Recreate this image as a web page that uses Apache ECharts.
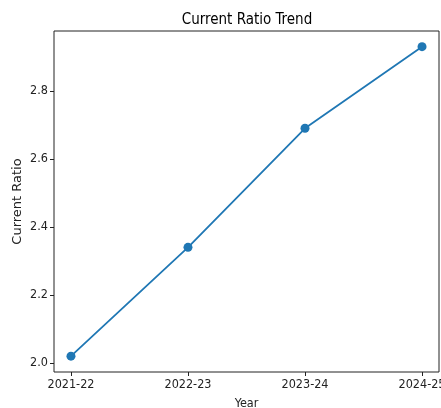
<!DOCTYPE html>
<html><head><meta charset="utf-8">
<script src="https://cdn.jsdelivr.net/npm/echarts@6/dist/echarts.min.js"></script>
<style>html,body{margin:0;padding:0;background:#fff}#c{width:441px;height:408px}</style>
</head><body><div id="c"></div>
<script>
const categories = ["2021-22", "2022-23", "2023-24", "2024-25"];
const currentRatio = [2.02, 2.34, 2.69, 2.93];
const yTicks = [2.0, 2.2, 2.4, 2.6, 2.8];

const FONT = "'DejaVu Sans Condensed', 'DejaVu Sans', sans-serif";
const chart = echarts.init(document.getElementById('c'), null, {renderer: 'canvas'});
chart.setOption({
  animation: false,
  title: {
    text: 'Current Ratio Trend', left: 242, top: 8, textAlign: 'center',
    textStyle: {fontFamily: FONT, fontSize: 15, fontWeight: 'normal', color: '#000'}
  },
  grid: {left: 54, top: 31, right: 2, bottom: 36, outerBoundsMode: 'none', containLabel: false,
    show: true, borderColor: '#222', borderWidth: 1, backgroundColor: 'transparent'},
  xAxis: {
    type: 'value', min: -0.145, max: 3.145,
    axisLine: {show: false, onZero: false},
    splitLine: {show: false},
    axisTick: {show: true, customValues: categories.map((_, i) => i), length: 4, lineStyle: {color: '#222'}},
    axisLabel: {customValues: categories.map((_, i) => i), formatter: v => categories[Math.round(v)] || '',
      fontFamily: FONT, fontSize: 12.5, color: '#222', margin: 6},
    name: 'Year', nameLocation: 'middle', nameGap: 25, nameMoveOverlap: false,
    nameTextStyle: {fontFamily: FONT, fontSize: 12.5, color: '#222'}
  },
  yAxis: {
    type: 'value', min: 1.9735, max: 2.976,
    axisLine: {show: false, onZero: false},
    splitLine: {show: false},
    axisTick: {show: true, customValues: yTicks, length: 4, lineStyle: {color: '#222'}},
    axisLabel: {customValues: yTicks, formatter: v => v.toFixed(1),
      fontFamily: FONT, fontSize: 12.5, color: '#222', margin: 6},
    name: 'Current Ratio', nameLocation: 'middle', nameGap: 30, nameMoveOverlap: false,
    nameTextStyle: {fontFamily: "'DejaVu Sans', sans-serif", fontSize: 13, color: '#222'}
  },
  series: [{
    type: 'line',
    data: currentRatio.map((v, i) => [i, v]),
    symbol: 'circle', symbolSize: 9,
    lineStyle: {color: '#1f77b4', width: 1.8},
    itemStyle: {color: '#1f77b4'}
  }]
});
</script></body></html>
